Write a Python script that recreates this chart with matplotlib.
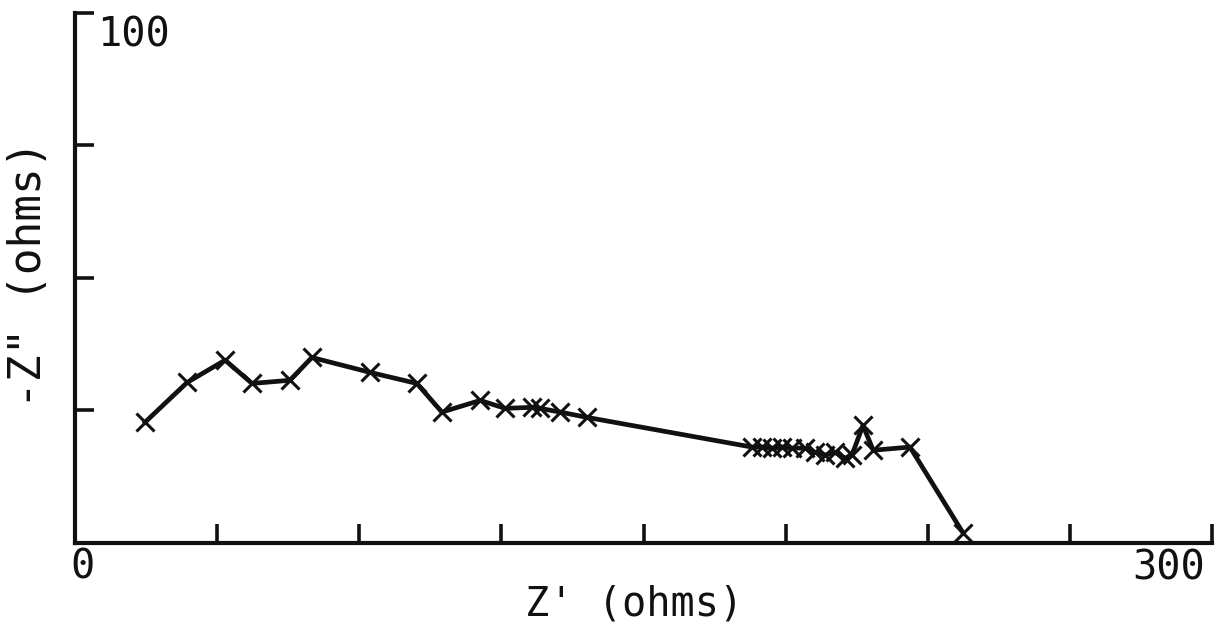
import matplotlib.pyplot as plt

# Nyquist data: real part Z' against -Z'' (both in ohms)
z_real = [18.5, 29.6, 39.6, 46.7, 56.7, 62.5, 77.8, 90.2, 96.8, 106.9,
          113.5, 120.6, 122.7, 128.0, 135.1,
          178.6, 181.3, 183.9, 186.5, 189.2, 192.6, 195.3, 197.9, 200.5,
          203.2, 205.0, 207.9, 210.6, 220.3, 234.3]
z_imag = [22.8, 30.3, 34.5, 30.1, 30.7, 35.0, 32.2, 30.1, 24.7, 26.9,
          25.4, 25.6, 25.4, 24.7, 23.7,
          18.1, 18.1, 17.9, 18.1, 17.9, 17.9, 17.1, 16.6, 17.1,
          16.0, 16.6, 22.2, 17.5, 18.1, 1.9]

x_ticks = [0, 37.5, 75, 112.5, 150, 187.5, 225, 262.5, 300]
y_ticks = [0, 25, 50, 75, 100]
x_range = (0, 300)
y_range = (0, 100)

plt.rcParams['font.family'] = 'DejaVu Sans Mono'
ink = '#111111'

fig = plt.figure(figsize=(12.26, 6.30), dpi=100)
ax = fig.add_axes([0.0612, 0.1381, 0.9274, 0.8413])

ax.plot(z_real, z_imag, color=ink, lw=3.4, marker='x', markersize=13,
        markeredgewidth=2.2, clip_on=False)

ax.set_xlim(*x_range)
ax.set_ylim(*y_range)
ax.set_xticks(x_ticks)
ax.set_yticks(y_ticks)
ax.set_xticklabels([])
ax.set_yticklabels([])
ax.tick_params(direction='in', length=14, width=2.6, color=ink)

for side in ('top', 'right'):
    ax.spines[side].set_visible(False)
for side in ('left', 'bottom'):
    ax.spines[side].set_linewidth(3)
    ax.spines[side].set_color(ink)

# end-of-axis labels, printed next to the axes rather than as tick labels
ax.annotate('100', xy=(0, 100), xytext=(16, -2), textcoords='offset points',
            ha='left', va='top', fontsize=29, color=ink)
ax.annotate('0', xy=(0, 0), xytext=(-3, -3), textcoords='offset points',
            ha='left', va='top', fontsize=29, color=ink)
ax.annotate('300', xy=(300, 0), xytext=(-5, -4), textcoords='offset points',
            ha='right', va='top', fontsize=29, color=ink)

fig.text(0.517, 0.04, "Z' (ohms)", ha='center', va='center',
         fontsize=29, color=ink)
fig.text(0.023, 0.565, '-Z" (ohms)', ha='center', va='center',
         rotation=90, fontsize=32, color=ink)

fig.savefig('out.png', dpi=100, facecolor='white')
